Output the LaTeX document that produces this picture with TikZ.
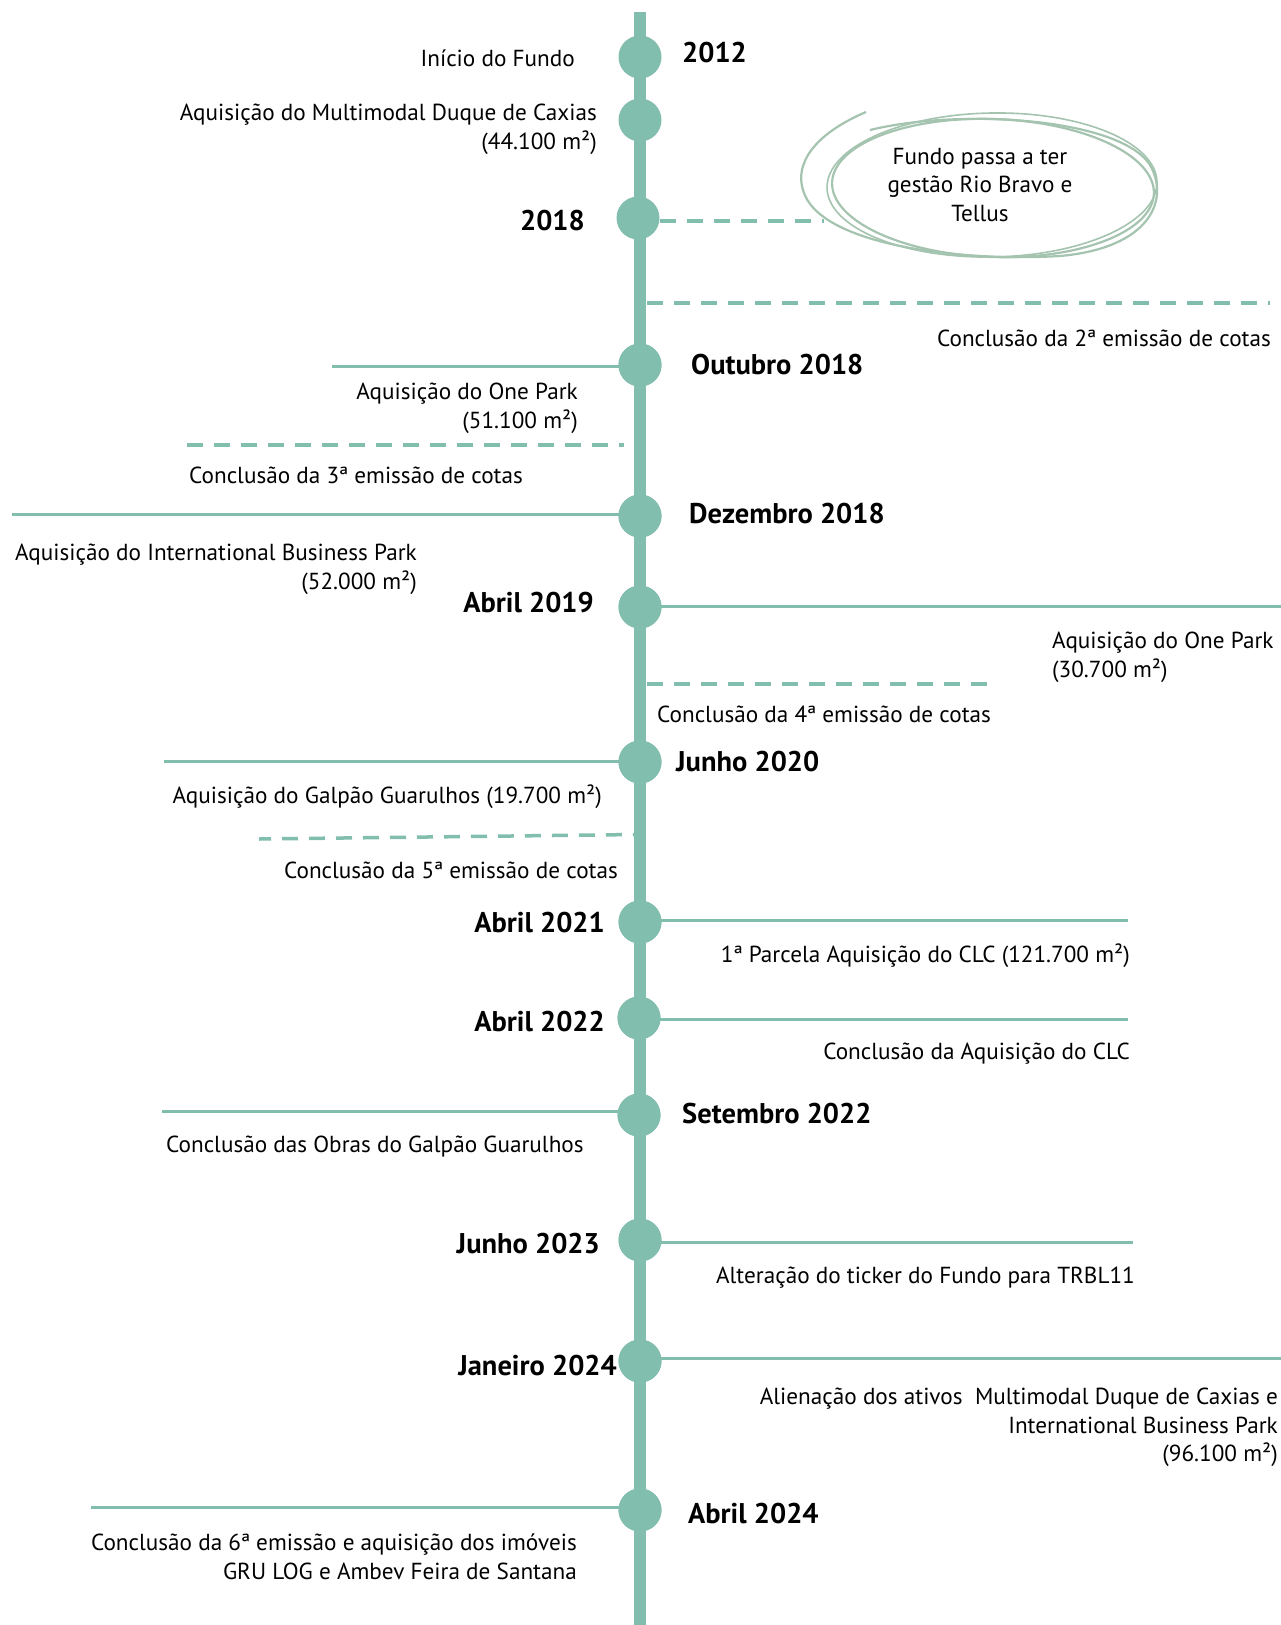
\documentclass[tikz,border=0pt]{standalone}
\usepackage{fontspec}
\setmainfont{PT Sans}
\definecolor{tl}{RGB}{130,190,174}
\definecolor{ell}{RGB}{165,196,176}
\begin{document}
\begin{tikzpicture}[x=1pt,y=-1pt,
  dot/.style={circle,fill=tl,minimum size=43pt,inner sep=0pt},
  sline/.style={draw=tl,line width=3pt},
  dline/.style={draw=tl,line width=3.5pt,dash pattern=on 16pt off 11pt},
  yr/.style={font=\fontsize{28.5}{32}\selectfont\bfseries,inner sep=0pt},
  txt/.style={font=\fontsize{23.2}{28.6}\selectfont,inner sep=0pt},
  ell/.style={draw=ell,line width=2.2pt}]
\useasboundingbox[fill=white] (0,0) rectangle (1281,1625);
% spine
\coordinate (top) at (640,12);
\coordinate (bot) at (640,1625);
\draw[tl,line width=12.5pt] (top) -- (bot);
% circles
\node[dot] (c1) at (640,57) {};
\node[dot] (c2) at (640,120) {};
\node[dot] (c3) at (638,218) {};
\node[dot] (c5) at (640,365) {};
\node[dot] (c7) at (640,516) {};
\node[dot] (c8) at (640,607) {};
\node[dot] (c10) at (640,762) {};
\node[dot] (c12) at (640,922) {};
\node[dot] (c13) at (639,1018) {};
\node[dot] (c14) at (639,1115) {};
\node[dot] (c15) at (640,1240) {};
\node[dot] (c16) at (640,1361) {};
\node[dot] (c17) at (640,1510) {};
% connector end points
\coordinate (e3) at (824,221);
\coordinate (d4a) at (647,303); \coordinate (d4b) at (1270,303);
\coordinate (e5) at (332,366);
\coordinate (d6a) at (187,445); \coordinate (d6b) at (624,445);
\coordinate (e7) at (12,514);
\coordinate (e8) at (1281,606);
\coordinate (d9a) at (647,684); \coordinate (d9b) at (995,684);
\coordinate (e10) at (164,761);
\coordinate (d11a) at (259,839); \coordinate (d11b) at (636,834.5);
\coordinate (e12) at (1128,920);
\coordinate (e13) at (1128,1019);
\coordinate (e14) at (162,1111);
\coordinate (e15) at (1133,1242);
\coordinate (e16) at (1281,1358);
\coordinate (e17) at (91,1507);
% lines
\draw[dline] (c3.east |- e3) -- (e3);
\draw[dline] (d4a) -- (d4b);
\draw[sline] (c5.center |- e5) -- (e5);
\draw[dline] (d6a) -- (d6b);
\draw[sline] (c7.center |- e7) -- (e7);
\draw[sline] (c8.center |- e8) -- (e8);
\draw[dline] (d9a) -- (d9b);
\draw[sline] (c10.center |- e10) -- (e10);
\draw[dline,dash pattern=on 16pt off 11pt,dash phase=4pt] (d11a) -- (d11b);
\draw[sline] (c12.center |- e12) -- (e12);
\draw[sline] (c13.center |- e13) -- (e13);
\draw[sline] (c14.center |- e14) -- (e14);
\draw[sline] (c15.center |- e15) -- (e15);
\draw[sline] (c16.center |- e16) -- (e16);
\draw[sline] (c17.center |- e17) -- (e17);
% redraw dots on top of lines
\foreach \c in {c5,c7,c8,c10,c12,c13,c14,c15,c16,c17}{\fill[tl] (\c) circle (21.5pt);}
% hand-drawn ellipse
\node[txt,align=center] (el) at (980,185) {Fundo passa a ter\\gestão Rio Bravo e\\Tellus};
\draw[ell] (993,188) ellipse [x radius=161pt, y radius=69pt, rotate=-2];
\draw[ell,line width=1.6pt] (992,185) ellipse [x radius=165pt, y radius=72pt, rotate=1];
\draw[ell] (866,112) .. controls (812,135) and (795,165) .. (803,190)
  .. controls (818,245) and (960,262) .. (1060,256)
  .. controls (1150,248) and (1170,200) .. (1150,165)
  .. controls (1120,118) and (960,108) .. (870,130);
% year labels
\node[yr,anchor=west] (y1) at (682,53) {2012};
\node[yr,anchor=east] (y3) at (585,221) {2018};
\node[yr,anchor=west] (y5) at (691,365) {Outubro 2018};
\node[yr,anchor=west] (y7) at (689,514) {Dezembro 2018};
\node[yr,anchor=east] (y8) at (594,603) {Abril 2019};
\node[yr,anchor=west] (y10) at (676,762) {Junho 2020};
\node[yr,anchor=east] (y12) at (605,923) {Abril 2021};
\node[yr,anchor=east] (y13) at (605,1022) {Abril 2022};
\node[yr,anchor=west] (y14) at (682,1114) {Setembro 2022};
\node[yr,anchor=east] (y15) at (600,1244) {Junho 2023};
\node[yr,anchor=east] (y16) at (617,1366) {Janeiro 2024};
\node[yr,anchor=west] (y17) at (688,1514) {Abril 2024};
% event texts
\node[txt,anchor=east] (t1) at (575,58) {Início do Fundo};
\node[txt,anchor=north east,align=right] (t2) at (597,104) {Aquisição do Multimodal Duque de Caxias\\(44.100 m²)};
\node[txt,anchor=east] (t4) at (1271,338) {Conclusão da 2ª emissão de cotas};
\node[txt,anchor=north east,align=right] (t5) at (578,383) {Aquisição do One Park\\(51.100 m²)};
\node[txt,anchor=west] (t6) at (189,475) {Conclusão da 3ª emissão de cotas};
\node[txt,anchor=north east,align=right] (t7) at (417,544) {Aquisição do International Business Park\\(52.000 m²)};
\node[txt,anchor=north west,align=left] (t8) at (1052,632) {Aquisição do One Park\\(30.700 m²)};
\node[txt,anchor=west] (t9) at (657,714) {Conclusão da 4ª emissão de cotas};
\node[txt,anchor=east] (t10) at (602,797) {Aquisição do Galpão Guarulhos (19.700 m²)};
\node[txt,anchor=east] (t11) at (618,870) {Conclusão da 5ª emissão de cotas};
\node[txt,anchor=east] (t12) at (1130,956) {1ª Parcela Aquisição do CLC (121.700 m²)};
\node[txt,anchor=east] (t13) at (1130,1054) {Conclusão da Aquisição do CLC};
\node[txt,anchor=west] (t14) at (166,1147) {Conclusão das Obras do Galpão Guarulhos};
\node[txt,anchor=east] (t15) at (1135,1278) {Alteração do ticker do Fundo para TRBL11};
\node[txt,anchor=north east,align=right] (t16) at (1278,1388) {Alienação dos ativos\ \ Multimodal Duque de Caxias e\\International Business Park\\(96.100 m²)};
\node[txt,anchor=north east,align=right] (t17) at (577,1534) {Conclusão da 6ª emissão e aquisição dos imóveis\\GRU LOG e Ambev Feira de Santana};
\end{tikzpicture}
\end{document}
